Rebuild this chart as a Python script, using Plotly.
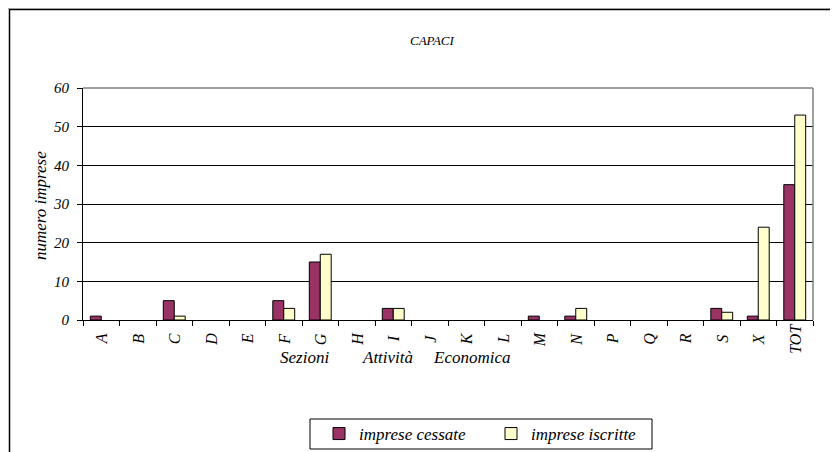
import plotly.graph_objects as go

categories = ["A", "B", "C", "D", "E", "F", "G", "H", "I", "J", "K", "L", "M", "N", "P", "Q", "R", "S", "X", "TOT"]
cessate = [1, 0, 5, 0, 0, 5, 15, 0, 3, 0, 0, 0, 1, 1, 0, 0, 0, 3, 1, 35]
iscritte = [0, 0, 1, 0, 0, 3, 17, 0, 3, 0, 0, 0, 0, 3, 0, 0, 0, 2, 24, 53]
y_ticks = [0, 10, 20, 30, 40, 50, 60]
title_text = "CAPACI"
y_title = "numero imprese"
x_title_words = ["Sezioni", "Attività", "Economica"]
series_names = ["imprese cessate", "imprese iscritte"]

# page offset (body margin) compensation
OFF = 8
W, H = 838 - OFF, 452 - OFF
# plot area in page pixels: x 83..813, y 88..320
L = 83 - OFF
T = 88 - OFF
R = W - (813 - OFF)
B = H - (320 - OFF)
PW, PH = W - L - R, H - T - B

def px(x):
    return (x - OFF - L) / PW

def py(y):
    return (H - B - (y - OFF)) / PH

def cx(x):
    return (x - OFF) / W

def cy(y):
    return 1 - (y - OFF) / H

FONT = "Times New Roman, Liberation Serif, serif"

def nz(v):
    return [None if a == 0 else a for a in v]

fig = go.Figure()
fig.add_trace(go.Bar(x=categories, y=nz(cessate), name=series_names[0],
                     marker=dict(color="#993366", line=dict(color="black", width=1))))
fig.add_trace(go.Bar(x=categories, y=nz(iscritte), name=series_names[1],
                     marker=dict(color="#FFFFCC", line=dict(color="black", width=1))))

annotations = []
for c in categories:
    annotations.append(dict(x=c, xref="x", y=py(339), yref="paper", text=c, showarrow=False,
                            textangle=-90, xanchor="center", yanchor="middle",
                            font=dict(family=FONT, size=16, style="italic", color="black")))
for word, xc in zip(x_title_words, [304, 387, 471]):
    annotations.append(dict(x=px(xc), xref="paper", y=py(357), yref="paper", text=word,
                            showarrow=False, xanchor="center", yanchor="middle",
                            font=dict(family=FONT, size=17, style="italic", color="black")))
annotations.append(dict(x=px(40), xref="paper", y=py(206), yref="paper", text=y_title,
                        showarrow=False, textangle=-90, xanchor="center", yanchor="middle",
                        font=dict(family=FONT, size=17, style="italic", color="black")))
annotations.append(dict(x=px(432), xref="paper", y=py(41), yref="paper", text=title_text,
                        showarrow=False, xanchor="center", yanchor="middle",
                        font=dict(family=FONT, size=13, style="italic", color="black")))

shapes = [
    dict(type="line", xref="paper", yref="paper", x0=0, x1=1, y0=1, y1=1,
         line=dict(color="#808080", width=1.5)),
    dict(type="line", xref="paper", yref="paper", x0=1, x1=1, y0=0, y1=1,
         line=dict(color="#808080", width=1.5)),
    dict(type="rect", xref="paper", yref="paper", x0=px(9.5), x1=px(833), y0=py(9.5), y1=py(480),
         line=dict(color="black", width=1.5)),
    dict(type="line", xref="paper", yref="paper", x0=px(0), x1=px(840), y0=py(8.5), y1=py(8.5),
         line=dict(color="#a0a0a0", width=1)),
    dict(type="rect", xref="paper", yref="paper", x0=px(310), x1=px(652), y0=py(419), y1=py(449),
         line=dict(color="black", width=1)),
]

fig.update_layout(
    width=W, height=H,
    margin=dict(l=L, r=R, t=T, b=B),
    paper_bgcolor="white", plot_bgcolor="white",
    barmode="group", bargap=0.4, bargroupgap=0,
    showlegend=True,
    legend=dict(orientation="h", xref="container", yref="container",
                x=cx(319), y=cy(434), xanchor="left", yanchor="middle",
                borderwidth=0, bgcolor="rgba(0,0,0,0)",
                entrywidth=127, entrywidthmode="pixels",
                font=dict(family=FONT, size=17, style="italic", color="black")),
    xaxis=dict(type="category", showline=True, linecolor="black", linewidth=1,
               ticks="outside", tickson="boundaries", ticklen=5, tickcolor="black",
               showticklabels=False, showgrid=False, zeroline=False),
    yaxis=dict(range=[0, 60], tickvals=y_ticks, showline=True, linecolor="black", linewidth=1,
               ticks="outside", ticklen=5, tickcolor="black", showgrid=True, gridcolor="black",
               gridwidth=1, zeroline=False, ticklabelstandoff=5,
               tickfont=dict(family=FONT, size=15, style="italic", color="black")),
    annotations=annotations,
    shapes=shapes,
)

fig.write_html("out.html")
